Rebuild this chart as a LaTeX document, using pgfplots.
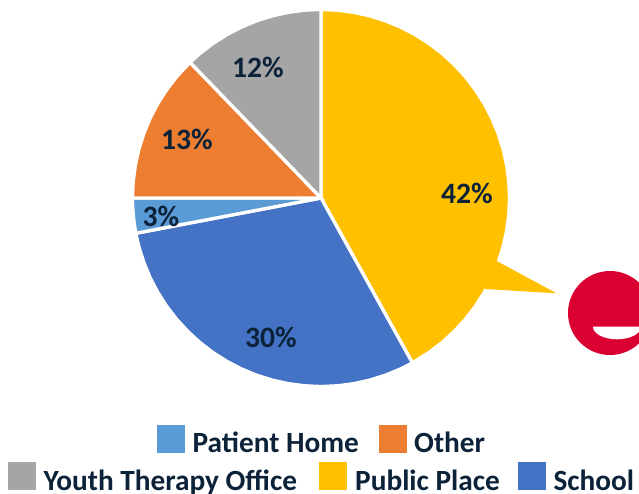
\documentclass[border=0pt]{standalone}
\usepackage{pgfplots}
\pgfplotsset{compat=1.18}
\usepackage{fontspec}
\setmainfont{Carlito}
\definecolor{cpublic}{HTML}{FFC000}
\definecolor{cschool}{HTML}{4472C4}
\definecolor{cpatient}{HTML}{5B9BD5}
\definecolor{cother}{HTML}{ED7D31}
\definecolor{cyouth}{HTML}{A5A5A5}
\definecolor{clogo}{HTML}{DB0032}
\definecolor{ctext}{HTML}{0B2239}
\tikzset{
    lab/.style={font=\fontsize{29.6}{29.6}\selectfont\bfseries, text=ctext, inner sep=0pt},
    leg/.style={font=\fontsize{29.3}{29.3}\selectfont\bfseries, text=ctext, inner sep=0pt, anchor=base west},
}
\begin{document}
\begin{tikzpicture}
\begin{axis}[
    x=1pt, y=1pt,
    xmin=-321, xmax=318,
    ymin=-295, ymax=198,
    hide axis,
    clip=true,
    every axis plot/.append style={data cs=polar, draw=white, line width=3.3pt, line join=miter},
    ]
    \path (axis cs:-321,-295) rectangle (axis cs:318,198);

    % Public Place 42%
    \addplot[fill=cpublic] coordinates {
    (0,0) (90,188.5) (85,188.5) (80,188.5) (75,188.5) (70,188.5) (65,188.5) (60,188.5)
    (55,188.5) (50,188.5) (45,188.5) (40,188.5) (35,188.5) (30,188.5) (25,188.5)
    (20,188.5) (15,188.5) (10,188.5) (5,188.5) (0,188.5) (-5,188.5) (-10,188.5)
    (-15,188.5) (-20,188.5) (-25,188.5) (-30,188.5) (-35,188.5) (-40,188.5)
    (-45,188.5) (-50,188.5) (-55,188.5) (-61,188.5)
    } -- cycle;
    % School 30%
    \addplot[fill=cschool] coordinates {
    (0,0) (-61,188.5) (-65,188.5) (-70,188.5) (-75,188.5) (-80,188.5) (-85,188.5)
    (-90,188.5) (-95,188.5) (-100,188.5) (-105,188.5) (-110,188.5) (-115,188.5)
    (-120,188.5) (-125,188.5) (-130,188.5) (-135,188.5) (-140,188.5) (-145,188.5)
    (-150,188.5) (-155,188.5) (-160,188.5) (-165,188.5) (-169.2,188.5)
    } -- cycle;
    % Patient Home 3%
    \addplot[fill=cpatient] coordinates {
    (0,0) (-169.2,188.5) (-172,188.5) (-175,188.5) (-178,188.5) (-180,188.5)
    } -- cycle;
    % Other 13%
    \addplot[fill=cother] coordinates {
    (0,0) (180,188.5) (175,188.5) (170,188.5) (165,188.5) (160,188.5) (155,188.5)
    (150,188.5) (145,188.5) (140,188.5) (134,188.5)
    } -- cycle;
    % Youth Therapy Office 12%
    \addplot[fill=cyouth] coordinates {
    (0,0) (134,188.5) (130,188.5) (125,188.5) (120,188.5) (115,188.5) (110,188.5)
    (105,188.5) (100,188.5) (95,188.5) (90,188.5)
    } -- cycle;

    % callout on the pie
    \addplot[data cs=cart, fill=cpublic, draw=none] coordinates {
    (176.3,-63.3) (235.5,-95.3) (164,-91) (150,-75)
    } -- cycle;

    % logo
    \fill[clogo] (axis cs:289,-115) circle [radius=42pt];
    \fill[white] (axis cs:272,-128.7) arc [start angle=180, end angle=360, x radius=24pt, y radius=12.6pt] -- cycle;

    \node[lab] at (axis cs:146,5) {42\%};
    \node[lab] at (axis cs:-50,-139) {30\%};
    \node[lab] at (axis cs:-160,-18) {3\%};
    \node[lab] at (axis cs:-134,59) {13\%};
    \node[lab] at (axis cs:-63,131) {12\%};

    % legend
    \addplot[data cs=cart, fill=cpatient, draw=none] coordinates {(-164,-255) (-136,-255) (-136,-227) (-164,-227)} -- cycle;
    \addplot[data cs=cart, fill=cother, draw=none] coordinates {(58,-255) (86,-255) (86,-227) (58,-227)} -- cycle;
    \addplot[data cs=cart, fill=cyouth, draw=none] coordinates {(-313,-292) (-285,-292) (-285,-264) (-313,-264)} -- cycle;
    \addplot[data cs=cart, fill=cpublic, draw=none] coordinates {(-2,-292) (26,-292) (26,-264) (-2,-264)} -- cycle;
    \addplot[data cs=cart, fill=cschool, draw=none] coordinates {(197,-292) (225,-292) (225,-264) (197,-264)} -- cycle;
    \node[leg] at (axis cs:-128.5,-254.7) {Patient Home};
    \node[leg] at (axis cs:93,-254.7) {Other};
    \node[leg] at (axis cs:-277.7,-292) {Youth Therapy Office};
    \node[leg] at (axis cs:34,-292) {Public Place};
    \node[leg] at (axis cs:232.3,-292) {School};
\end{axis}
\end{tikzpicture}
\end{document}
